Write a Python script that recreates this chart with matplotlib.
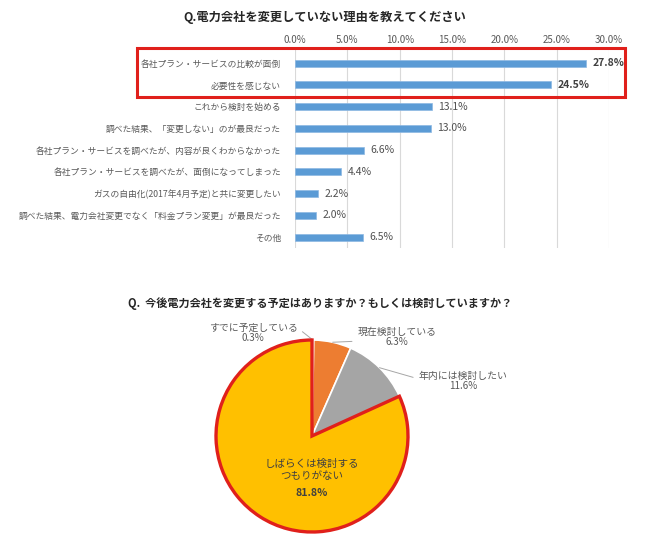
import numpy as np
import matplotlib
matplotlib.use("Agg")
import matplotlib.pyplot as plt
from matplotlib.patches import Rectangle

plt.rcParams['font.family'] = ['Noto Sans CJK JP', 'DejaVu Sans']

# --- data -------------------------------------------------------------
bar_title = "Q.電力会社を変更していない理由を教えてください"
reasons = [
    "各社プラン・サービスの比較が面倒",
    "必要性を感じない",
    "これから検討を始める",
    "調べた結果、「変更しない」のが最良だった",
    "各社プラン・サービスを調べたが、内容が良くわからなかった",
    "各社プラン・サービスを調べたが、面倒になってしまった",
    "ガスの自由化(2017年4月予定)と共に変更したい",
    "調べた結果、電力会社変更でなく「料金プラン変更」が最良だった",
    "その他",
]
reason_pct = [27.8, 24.5, 13.1, 13.0, 6.6, 4.4, 2.2, 2.0, 6.5]
highlight = [True, True, False, False, False, False, False, False, False]
xticks = [0, 5, 10, 15, 20, 25, 30]

pie_title = "Q.  今後電力会社を変更する予定はありますか？もしくは検討していますか？"
plan_labels = ["すでに予定している", "現在検討している", "年内には検討したい",
               "しばらくは検討する\nつもりがない"]
plan_pct = [0.3, 6.3, 11.6, 81.8]
plan_colors = ["#5B9BD5", "#ED7D31", "#A5A5A5", "#FFC000"]

W, H = 650, 552
fig = plt.figure(figsize=(W / 100, H / 100), dpi=100)
fig.patch.set_facecolor("white")


def box(x0, y0, x1, y1):
    # pixel box (top-left origin) -> figure fraction rect
    return [x0 / W, 1 - y1 / H, (x1 - x0) / W, (y1 - y0) / H]


gray_txt = "#595959"

# --- bar chart ----------------------------------------------------------
ax = fig.add_axes(box(295, 48, 609, 248))
y = np.arange(len(reasons))
ax.barh(y, reason_pct, height=0.32, color="#5B9BD5", edgecolor="#8DB8E3",
        linewidth=0.5, zorder=3)
ax.set_xlim(0, 30)
ax.set_ylim(len(reasons) - 0.5, -0.7)
ax.set_xticks(xticks)
ax.set_xticklabels([f"{v:.1f}%" for v in xticks])
ax.xaxis.tick_top()
ax.tick_params(axis="x", length=0, pad=2, labelsize=7, colors=gray_txt)
ax.set_yticks(y)
ax.set_yticklabels(reasons)
ax.tick_params(axis="y", length=0, pad=10, labelsize=6.3, colors=gray_txt)
ax.grid(axis="x", color="#D9D9D9", linewidth=0.8, zorder=0)
for s in ax.spines.values():
    s.set_visible(False)
for yi, v, hl in zip(y, reason_pct, highlight):
    ax.text(v + 0.6, yi, f"{v:.1f}%", va="center", ha="left",
            fontsize=7.5, color="#404040" if hl else "#505050",
            fontweight="bold" if hl else "normal", zorder=4)

fig.text(325 / W, 1 - 17 / H, bar_title, ha="center", va="center",
         fontsize=8.8, fontweight="bold", color="#262626")

fig.patches.append(Rectangle((137 / W, 1 - 97 / H), (625 - 137) / W, (97 - 48) / H,
                             transform=fig.transFigure, fill=False,
                             edgecolor="#E0201B", linewidth=2.2))

# --- pie chart ----------------------------------------------------------
pax = fig.add_axes(box(312 - 96, 436 - 96, 312 + 96, 436 + 96))
wedges, _ = pax.pie(plan_pct, colors=plan_colors, startangle=90,
                    counterclock=False, radius=1,
                    wedgeprops=dict(edgecolor="white", linewidth=1.2))
wedges[-1].set_edgecolor("#E0201B")
wedges[-1].set_linewidth(2.4)
wedges[-1].set_zorder(5)
pax.set_xlim(-1, 1)
pax.set_ylim(-1, 1)
pax.set_aspect("equal")

fig.text(320 / W, 1 - 303 / H, pie_title, ha="center", va="center",
         fontsize=8, fontweight="bold", color="#262626")

# outside labels with leader lines
label_pos = [(253, 333), (397, 337), (463, 381)]
relpos = [(1.0, 0.75), (0.0, 0.3), (0.0, 0.6)]
for i, ((px, py), rp) in enumerate(zip(label_pos, relpos)):
    w = wedges[i]
    mid = np.deg2rad((w.theta1 + w.theta2) / 2)
    pax.annotate(f"{plan_labels[i]}\n{plan_pct[i]:.1f}%",
                 xy=(np.cos(mid), np.sin(mid)), xycoords="data",
                 xytext=(px, H - py), textcoords="figure pixels",
                 ha="center", va="center", fontsize=7.1, color=gray_txt,
                 linespacing=1.1, annotation_clip=False,
                 arrowprops=dict(arrowstyle="-", color="#A6A6A6", lw=0.7,
                                 relpos=rp, shrinkA=2, shrinkB=0))

# inside label for the big slice
fig.text(312 / W, 1 - 470 / H, plan_labels[-1], ha="center", va="center",
         fontsize=7.6, color="#404040", linespacing=1.25)
fig.text(312 / W, 1 - 493 / H, f"{plan_pct[-1]:.1f}%", ha="center", va="center",
         fontsize=7.6, fontweight="bold", color="#404040")

fig.savefig("out.png", dpi=100)
